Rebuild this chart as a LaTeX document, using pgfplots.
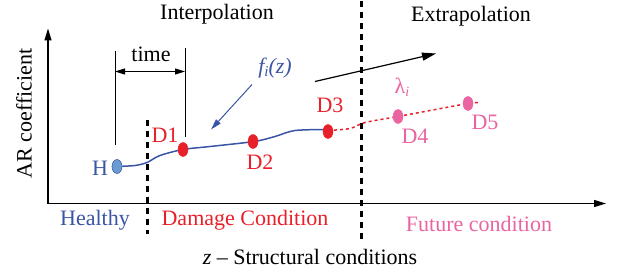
\documentclass[border=0pt]{standalone}
\usepackage{pgfplots}
\pgfplotsset{compat=1.18}
\usepackage{fontspec}
\setmainfont{Liberation Serif}
\newfontfamily\tnr[Ligatures=TeX]{Liberation Serif}
\usetikzlibrary{arrows.meta}
\definecolor{cblue}{HTML}{3A55A5}
\definecolor{hblue}{HTML}{6A9BD1}
\definecolor{cred}{HTML}{E8202A}
\definecolor{cpink}{HTML}{E964A0}
\tikzset{lbl/.style={font=\tnr\fontsize{22}{24}\selectfont}}
\begin{document}
\begin{tikzpicture}
\begin{axis}[
  width=617pt, height=271pt, scale only axis,
  xmin=0, xmax=617, ymin=0, ymax=271, y dir=reverse,
  hide axis, clip=false,
]
\draw[draw=none] (rel axis cs:0,0) rectangle (rel axis cs:1,1);
% axes
\draw[line width=1.2pt,-{Triangle[length=12pt,width=7pt]}] (axis cs:48,202) -- (axis cs:48,27);
\draw[line width=1.2pt,-{Triangle[length=12pt,width=7pt]}] (axis cs:48,202) -- (axis cs:606,202);
% dashed separators
\draw[line width=3pt,dash pattern=on 6pt off 5pt] (axis cs:147,118) -- (axis cs:147,232);
\draw[line width=3pt,dash pattern=on 6pt off 5pt] (axis cs:361,0) -- (axis cs:361,238);
% time bracket
\draw[line width=1pt] (axis cs:115,50) -- (axis cs:115,143);
\draw[line width=1pt] (axis cs:185,47) -- (axis cs:185,135);
\draw[line width=1pt,{Triangle[length=10pt,width=6pt]}-{Triangle[length=10pt,width=6pt]}] (axis cs:115,70) -- (axis cs:185,70);
% arrows
\draw[line width=1pt,cblue,-{Triangle[length=11pt,width=6pt]}] (axis cs:252,83) -- (axis cs:211,128);
\draw[line width=1.2pt,-{Triangle[length=14pt,width=8pt]}] (axis cs:315,80) -- (axis cs:436,52);
% curves
\addplot[cblue, line width=1.5pt, smooth, tension=0.5] coordinates {
 (117,165) (135,164) (147,161) (160,154) (183,148) (210,145) (254,140) (275,135) (295,129) (328,128)};
\addplot[cred, line width=1.5pt, dash pattern=on 3pt off 3pt, smooth, tension=0.5] coordinates {
 (328,129) (350,127) (365,121) (398,115) (430,109) (468,102) (479,101)};
% points
\addplot[only marks, mark=*, mark size=7pt, mark options={xscale=0.72, fill=hblue, draw=cblue, line width=0.5pt}] coordinates {(117,165)};
\addplot[only marks, mark=*, mark size=7pt, mark options={xscale=0.72, fill=cred, draw=cred}] coordinates {(183,148) (253,140) (328,130)};
\addplot[only marks, mark=*, mark size=7pt, mark options={xscale=0.72, fill=cpink, draw=cpink}] coordinates {(398,115) (468,102)};
% labels
\node[lbl] at (axis cs:217,13) {Interpolation};
\node[lbl] at (axis cs:471,15) {Extrapolation};
\node[lbl] at (axis cs:151,53) {time};
\node[lbl,rotate=90] at (axis cs:24,112) {AR coefficient};
\node[lbl,cblue] at (axis cs:275,67) {\itshape f\raisebox{-0.3ex}{\fontsize{15}{15}\selectfont i}(z)};
\node[lbl,cpink] at (axis cs:402,86) {λ\raisebox{-0.3ex}{\fontsize{14}{14}\selectfont\itshape i}};
\node[lbl,cblue] at (axis cs:100,167) {H};
\node[lbl,cred] at (axis cs:165,134) {D1};
\node[lbl,cred] at (axis cs:260,161) {D2};
\node[lbl,cred] at (axis cs:330,104) {D3};
\node[lbl,cpink] at (axis cs:415,135) {D4};
\node[lbl,cpink] at (axis cs:485,121) {D5};
\node[lbl,cblue] at (axis cs:95,219) {Healthy};
\node[lbl,cred] at (axis cs:245,219) {Damage Condition};
\node[lbl,cpink] at (axis cs:479,222) {Future condition};
\node[lbl] at (axis cs:310,255) {\itshape z\upshape{} – Structural conditions};
\end{axis}
\end{tikzpicture}
\end{document}
